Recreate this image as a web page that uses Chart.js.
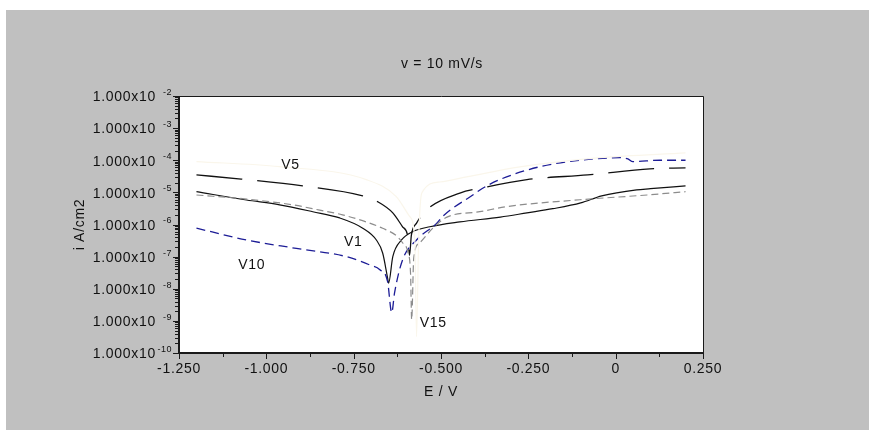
<!DOCTYPE html>
<html lang="en">
<head>
    <meta charset="UTF-8">
    <title>v = 10 mV/s</title>
    <script src="https://cdn.jsdelivr.net/npm/chart.js"></script>
    <style>
        body {
            margin: 0;
            background: #fff;
        }
    </style>
</head>
<body>
    <canvas id="chart" width="869" height="430"></canvas>

    <script>
        // potential E (V) and current density i (A/cm2)
        const v1E = [-1.2, -1.057, -0.962, -0.867, -0.79, -0.724, -0.685, -0.667, -0.653, -0.650, -0.638, -0.613, -0.581, -0.532, -0.446, -0.33, -0.254, -0.18, -0.10, -0.04, 0.06, 0.10, 0.2];
        const v1I = [1.05e-5, 5.8e-6, 4.1e-6, 2.5e-6, 1.6e-6, 7.7e-7, 3.3e-7, 1.3e-7, 2.2e-8, 1.5e-8, 1.0e-7, 3.3e-7, 6.0e-7, 8.5e-7, 1.2e-6, 1.7e-6, 2.3e-6, 3.1e-6, 4.7e-6, 7.8e-6, 1.2e-5, 1.3e-5, 1.6e-5];

        const v5E = [-1.2, -1.072, -0.896, -0.724, -0.681, -0.638, -0.610, -0.595, -0.590, -0.585, -0.570, -0.542, -0.446, -0.380, -0.254, -0.080, 0.098, 0.2];
        const v5I = [3.5e-5, 2.6e-5, 1.6e-5, 7.8e-6, 5.1e-6, 2.3e-6, 8.5e-7, 4.2e-7, 1.1e-7, 4.5e-7, 1.1e-6, 2.8e-6, 9.5e-6, 1.4e-5, 2.5e-5, 3.5e-5, 5.4e-5, 5.8e-5];

        const v10E = [-1.2, -1.057, -0.914, -0.771, -0.704, -0.675, -0.653, -0.641, -0.633, -0.610, -0.570, -0.512, -0.495, -0.409, -0.383, -0.332, -0.217, -0.102, 0.012, 0.035, 0.049, 0.127, 0.2];
        const v10I = [7.7e-7, 3.3e-7, 1.8e-7, 1.0e-7, 5.5e-8, 3.9e-8, 1.7e-8, 1.8e-9, 7.4e-9, 7.9e-8, 3.3e-7, 1.1e-6, 1.8e-6, 8.3e-6, 1.3e-5, 2.5e-5, 6.3e-5, 1.0e-4, 1.2e-4, 1.1e-4, 9.1e-5, 1.0e-4, 1.0e-4];

        const v15E = [-1.2, -1.057, -0.925, -0.847, -0.782, -0.714, -0.667, -0.628, -0.610, -0.595, -0.587, -0.584, -0.578, -0.561, -0.523, -0.483, -0.389, -0.312, -0.102, 0.090, 0.2];
        const v15I = [8.3e-6, 6.2e-6, 4.1e-6, 2.8e-6, 2.0e-6, 1.2e-6, 7.6e-7, 4.5e-7, 2.7e-7, 1.4e-7, 2.7e-8, 1.1e-9, 9.1e-8, 2.7e-7, 7.8e-7, 1.7e-6, 2.5e-6, 3.6e-6, 5.9e-6, 8.3e-6, 1.05e-5];

        // very pale extra trace (no label on the original)
        const paleE = [-1.2, -0.962, -0.714, -0.628, -0.590, -0.575, -0.570, -0.564, -0.555, -0.504, -0.423, -0.274, -0.045, 0.2];
        const paleI = [9.1e-5, 6.3e-5, 2.5e-5, 7.4e-6, 1.8e-6, 3.3e-7, 3.2e-10, 3.3e-7, 9.5e-6, 2.1e-5, 3.1e-5, 6.2e-5, 1.2e-4, 1.7e-4];

        // curve labels written inside the plot
        const curveNames = ['V5', 'V1', 'V10', 'V15'];
        const curveNameE = [-0.931, -0.751, -1.042, -0.522];
        const curveNameI = [7.1e-5, 2.9e-7, 5.5e-8, 8.7e-10];

        // axis ticks
        const xTicks = [-1.25, -1.0, -0.75, -0.5, -0.25, 0, 0.25];
        const xTickLabels = ['-1.250', '-1.000', '-0.750', '-0.500', '-0.250', '0', '0.250'];
        const yExponents = [-10, -9, -8, -7, -6, -5, -4, -3, -2];

        const FONT = '"Liberation Sans", Arial, sans-serif';

        function toPoints(xs, ys) {
            return xs.map((x, k) => ({ x: x, y: ys[k] }));
        }

        const frame = {
            id: 'frame',
            beforeDraw(chart) {
                const { ctx, chartArea: a } = chart;
                ctx.save();
                ctx.fillStyle = '#ffffff';
                ctx.fillRect(0, 0, chart.width, chart.height);
                ctx.fillStyle = '#c0c0c0';
                ctx.fillRect(6, 10, chart.width - 6, chart.height - 10);
                ctx.fillStyle = '#ffffff';
                ctx.fillRect(a.left, a.top, a.right - a.left, a.bottom - a.top);
                ctx.restore();
            },
            afterDatasetsDraw(chart) {
                const { ctx, chartArea: a } = chart;
                const xs = chart.scales.x;
                const ys = chart.scales.y;
                ctx.save();
                ctx.strokeStyle = '#1a1a1a';
                ctx.fillStyle = '#111';

                // box: thin top/right, heavier left/bottom
                ctx.lineWidth = 1;
                ctx.beginPath();
                ctx.moveTo(a.left, a.top + 0.5);
                ctx.lineTo(a.right + 0.5, a.top + 0.5);
                ctx.lineTo(a.right + 0.5, a.bottom);
                ctx.stroke();
                ctx.lineWidth = 2;
                ctx.beginPath();
                ctx.moveTo(a.left, a.top);
                ctx.lineTo(a.left, a.bottom);
                ctx.lineTo(a.right + 1, a.bottom);
                ctx.stroke();

                // x ticks
                ctx.lineWidth = 1;
                ctx.beginPath();
                for (let k = 0; k < xTicks.length; k++) {
                    const px = Math.round(xs.getPixelForValue(xTicks[k])) + 0.5;
                    ctx.moveTo(px, a.bottom);
                    ctx.lineTo(px, a.bottom + 6);
                    if (k < xTicks.length - 1) {
                        const pm = Math.round(xs.getPixelForValue((xTicks[k] + xTicks[k + 1]) / 2)) + 0.5;
                        ctx.moveTo(pm, a.bottom);
                        ctx.lineTo(pm, a.bottom + 4);
                    }
                }
                // y ticks, log minors
                yExponents.forEach((e, k) => {
                    const py = Math.round(ys.getPixelForValue(Math.pow(10, e))) + 0.5;
                    ctx.moveTo(a.left - 6, py);
                    ctx.lineTo(a.left, py);
                    if (k < yExponents.length - 1) {
                        for (let m = 2; m <= 9; m++) {
                            const pm = Math.round(ys.getPixelForValue(m * Math.pow(10, e))) + 0.5;
                            ctx.moveTo(a.left - 4, pm);
                            ctx.lineTo(a.left, pm);
                        }
                    }
                });
                ctx.stroke();

                ctx.letterSpacing = '0.7px';
                ctx.font = '14px ' + FONT;
                ctx.textBaseline = 'middle';

                // x tick labels
                ctx.textAlign = 'center';
                xTicks.forEach((v, k) => {
                    ctx.fillText(xTickLabels[k], xs.getPixelForValue(v), a.bottom + 16);
                });

                // y tick labels with superscript exponent
                yExponents.forEach(e => {
                    const py = ys.getPixelForValue(Math.pow(10, e));
                    ctx.font = '14px ' + FONT;
                    ctx.letterSpacing = '0.7px';
                    ctx.textAlign = 'right';
                    ctx.fillText('1.000x10', a.left - 23, py + 1.5);
                    ctx.font = '9px ' + FONT;
                    ctx.letterSpacing = '0.5px';
                    ctx.fillText(String(e), a.left - 7, py - 3.5);
                });

                // axis titles and heading
                ctx.font = '14px ' + FONT;
                ctx.letterSpacing = '0.7px';
                ctx.textAlign = 'center';
                const cx = (a.left + a.right) / 2;
                ctx.fillText('E / V', cx, 392);
                ctx.fillText('v = 10 mV/s', cx + 1, 64);
                ctx.save();
                ctx.translate(80, (a.top + a.bottom) / 2);
                ctx.rotate(-Math.PI / 2);
                ctx.fillText('i A/cm2', 0, 0);
                ctx.restore();

                // curve names
                curveNames.forEach((n, k) => {
                    ctx.fillText(n, xs.getPixelForValue(curveNameE[k]), ys.getPixelForValue(curveNameI[k]));
                });
                ctx.restore();
            }
        };

        const ctx = document.getElementById('chart').getContext('2d');
        new Chart(ctx, {
            type: 'line',
            data: {
                datasets: [
                    {
                        label: 'pale',
                        data: toPoints(paleE, paleI),
                        borderColor: '#faf6eb',
                        borderWidth: 1.2
                    },
                    {
                        label: 'V15',
                        data: toPoints(v15E, v15I),
                        borderColor: '#8c8c8c',
                        borderWidth: 1.2,
                        borderDash: [7, 4]
                    },
                    {
                        label: 'V10',
                        data: toPoints(v10E, v10I),
                        borderColor: '#1c1c96',
                        borderWidth: 1.3,
                        borderDash: [9, 5]
                    },
                    {
                        label: 'V5',
                        data: toPoints(v5E, v5I),
                        borderColor: '#111',
                        borderWidth: 1.3,
                        borderDash: [46, 15]
                    },
                    {
                        label: 'V1',
                        data: toPoints(v1E, v1I),
                        borderColor: '#111',
                        borderWidth: 1.2
                    }
                ]
            },
            options: {
                responsive: false,
                animation: false,
                devicePixelRatio: 1,
                layout: {
                    padding: { left: 179, right: 166, top: 96, bottom: 77 }
                },
                elements: {
                    point: { radius: 0 },
                    line: { cubicInterpolationMode: 'monotone', fill: false }
                },
                plugins: {
                    legend: { display: false },
                    tooltip: { enabled: false }
                },
                scales: {
                    x: { type: 'linear', min: -1.25, max: 0.25, display: false },
                    y: { type: 'logarithmic', min: 1e-10, max: 1e-2, display: false }
                }
            },
            plugins: [frame]
        });
    </script>
</body>
</html>
